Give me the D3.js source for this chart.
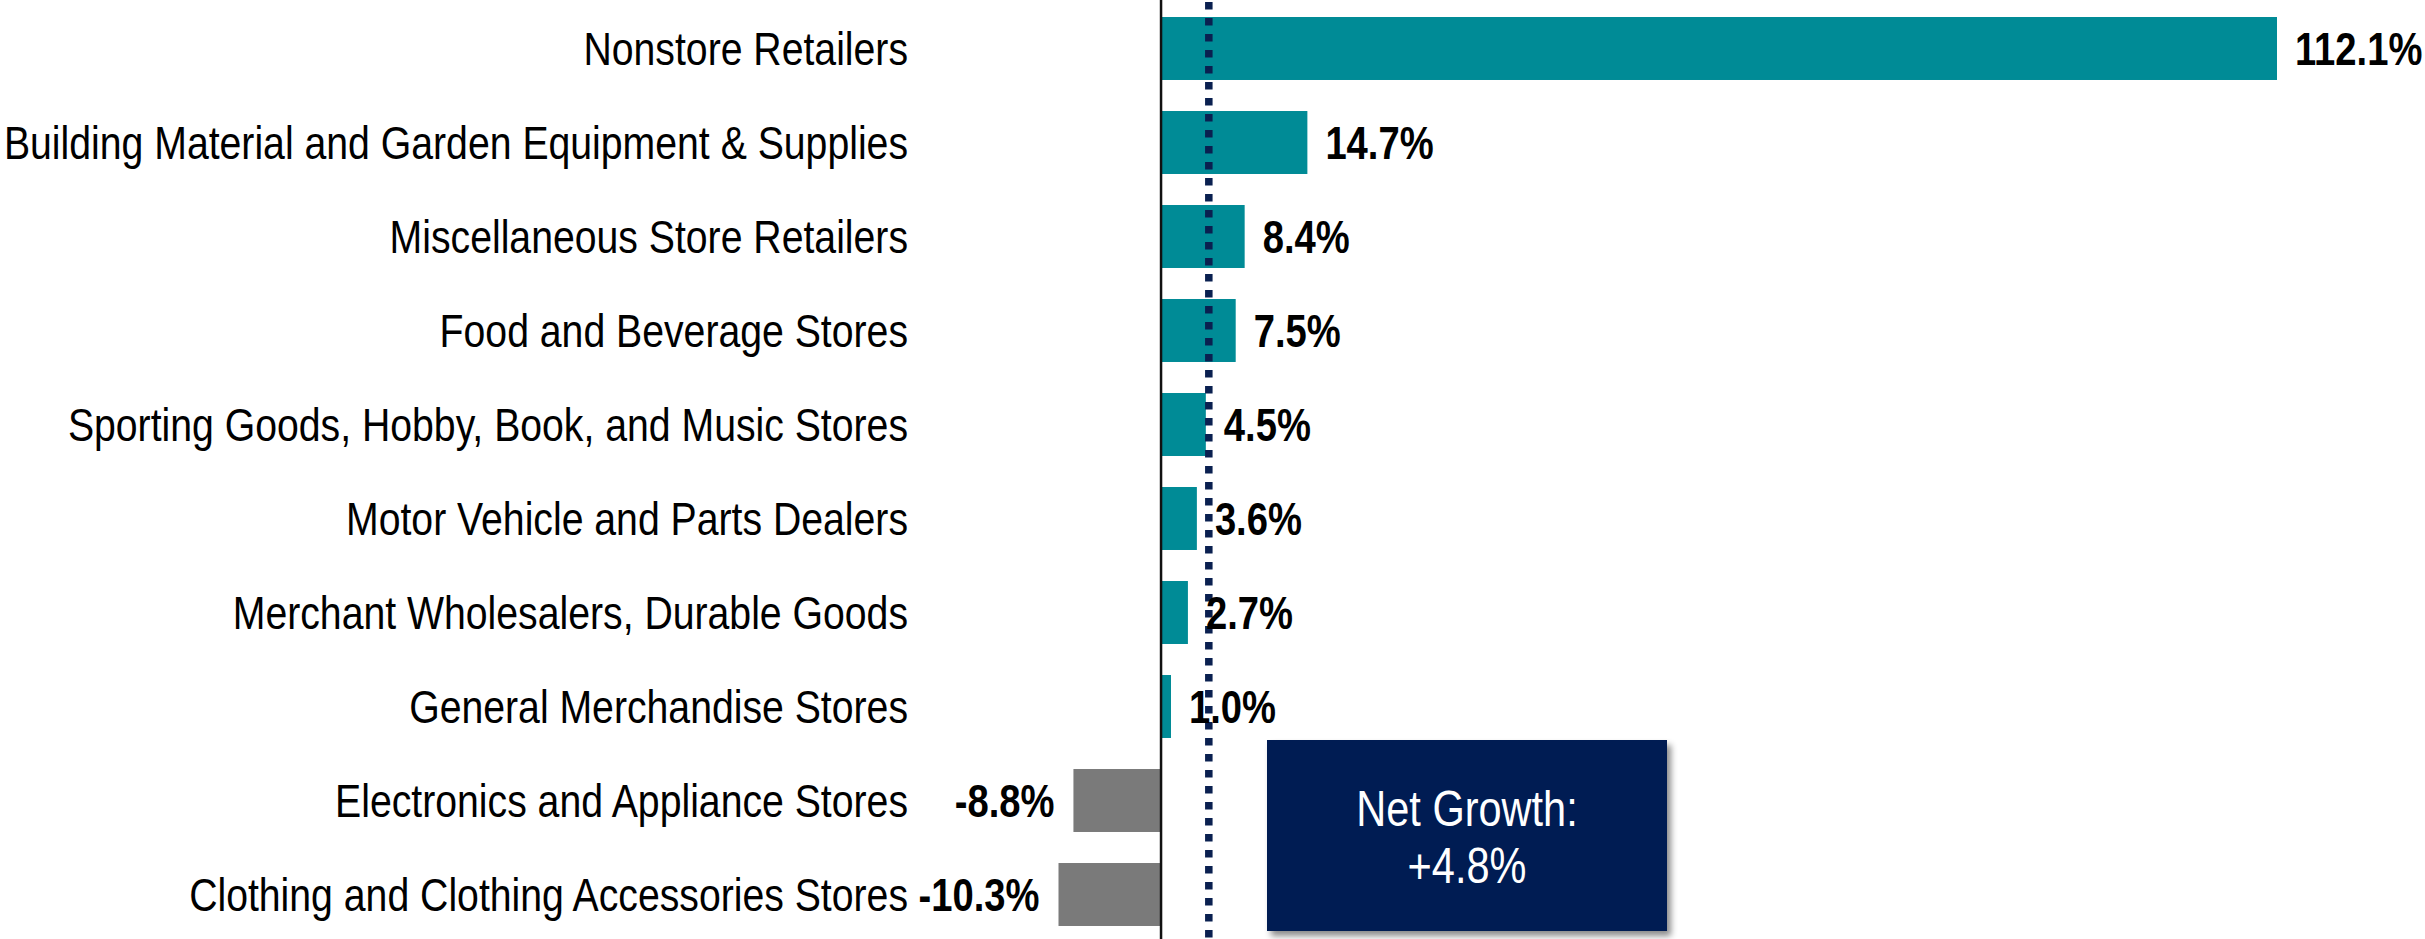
<!DOCTYPE html>
<html>
<head>
<meta charset="utf-8">
<script src="https://cdn.jsdelivr.net/npm/d3@7"></script>
<style>
  html, body { margin: 0; padding: 0; background: #fff; }
  svg { display: block; }
  .cat { font-family: "Liberation Sans", Arial, sans-serif; font-size: 47px; fill: #000; }
  .val { font-family: "Liberation Sans", Arial, sans-serif; font-size: 46px; font-weight: bold; fill: #000; }
  .net { font-family: "Liberation Sans", Arial, sans-serif; font-size: 50px; fill: #fff; }
</style>
</head>
<body>
<svg id="chart"></svg>
<script>
const categories = [
  "Nonstore Retailers",
  "Building Material and Garden Equipment & Supplies",
  "Miscellaneous Store Retailers",
  "Food and Beverage Stores",
  "Sporting Goods, Hobby, Book, and Music Stores",
  "Motor Vehicle and Parts Dealers",
  "Merchant Wholesalers, Durable Goods",
  "General Merchandise Stores",
  "Electronics and Appliance Stores",
  "Clothing and Clothing Accessories Stores"
];
const growth = [112.1, 14.7, 8.4, 7.5, 4.5, 3.6, 2.7, 1.0, -8.8, -10.3];
const netGrowth = 4.8;
const netLabel = ["Net Growth:", "+4.8%"];

const width = 2425, height = 939;
// no narrow face installed, so squeeze Liberation Sans
const narrowCat = 0.834;
const narrow = 0.83;
const svg = d3.select("#chart").attr("width", width).attr("height", height);

// zero line sits at x=1161, 112.1% reaches x=2277
const x = d3.scaleLinear()
  .domain([-10.3, 112.1])
  .range([1058.5, 2277]);

const y = d3.scaleBand()
  .domain(categories)
  .range([1.5, 941.5])
  .paddingInner(0.33)
  .paddingOuter(0.165);

const data = categories.map((c, i) => ({ cat: c, v: growth[i] }));

// shadow for the call-out box
const defs = svg.append("defs");
defs.append("filter")
  .attr("id", "shadow")
  .attr("x", "-10%").attr("y", "-10%")
  .attr("width", "130%").attr("height", "130%")
  .append("feDropShadow")
  .attr("dx", 4).attr("dy", 5)
  .attr("stdDeviation", 3)
  .attr("flood-color", "#000")
  .attr("flood-opacity", 0.45);

// bars
svg.selectAll(".bar")
  .data(data)
  .enter().append("rect")
  .attr("class", "bar")
  .attr("x", d => x(Math.min(0, d.v)))
  .attr("y", d => y(d.cat))
  .attr("width", d => Math.abs(x(d.v) - x(0)))
  .attr("height", y.bandwidth())
  .attr("fill", d => d.v >= 0 ? "#008b96" : "#7a7a7a");

// category labels
svg.selectAll(".cat")
  .data(data)
  .enter().append("text")
  .attr("class", "cat")
  .attr("transform", d => `translate(908,${y(d.cat) + y.bandwidth() / 2}) scale(${narrowCat},1)`)
  .attr("dy", "0.36em")
  .attr("text-anchor", "end")
  .text(d => d.cat);

// zero axis
svg.append("line")
  .attr("x1", x(0)).attr("x2", x(0))
  .attr("y1", 0).attr("y2", height)
  .attr("stroke", "#111")
  .attr("stroke-width", 2.5);

// net growth reference (dotted)
svg.append("line")
  .attr("x1", x(netGrowth)).attr("x2", x(netGrowth))
  .attr("y1", 2).attr("y2", height)
  .attr("stroke", "#0a2050")
  .attr("stroke-width", 7.5)
  .attr("stroke-dasharray", "7.5 8.5");

// value labels
svg.selectAll(".val")
  .data(data)
  .enter().append("text")
  .attr("class", "val")
  .attr("transform", d => {
    const tx = d.v >= 0 ? x(d.v) + 18 : x(d.v) - 19;
    return `translate(${tx},${y(d.cat) + y.bandwidth() / 2}) scale(${narrow},1)`;
  })
  .attr("dy", "0.36em")
  .attr("text-anchor", d => d.v >= 0 ? "start" : "end")
  .text(d => d.v.toFixed(1) + "%");

// call-out box
const box = svg.append("g").attr("transform", "translate(1267,740)");
box.append("rect")
  .attr("width", 400)
  .attr("height", 191)
  .attr("fill", "#041f52")
  .attr("filter", "url(#shadow)");
box.selectAll("text")
  .data(netLabel)
  .enter().append("text")
  .attr("class", "net")
  .attr("transform", (d, i) => `translate(200,${86 + i * 57}) scale(${narrow},1)`)
  .attr("text-anchor", "middle")
  .text(d => d);
</script>
</body>
</html>
